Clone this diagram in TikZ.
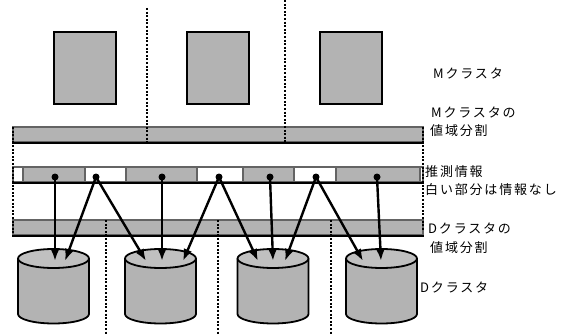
\documentclass[tikz,border=0pt]{standalone}
\usepackage{fontspec}
\newfontfamily\jp[LetterSpace=14]{Noto Sans CJK JP}
\usetikzlibrary{arrows.meta}
\definecolor{cg}{RGB}{179,179,179}
\definecolor{ctop}{RGB}{192,192,192}
\definecolor{edge}{RGB}{100,100,100}
\tikzset{
  mbox/.style={draw=black, line width=2pt, fill=cg},
  barfill/.style={fill=cg, draw=edge, line width=1.6pt},
  sep/.style={black, dash pattern=on 2pt off 1.6pt, line width=2.2pt},
  dotnode/.style={circle, fill=black, inner sep=0pt, minimum size=7pt},
  arr/.style={line width=2.4pt, -{Latex[length=12pt,width=9pt]}, shorten <=-3.5pt},
  lbl/.style={anchor=west, inner sep=0pt, font=\jp\fontsize{13}{15}\selectfont},
  cylline/.style={draw=black, line width=1.8pt}
}
\begin{document}
\begin{tikzpicture}[x=1pt,y=-1pt]
\useasboundingbox (0,0) rectangle (567,334);
% M cluster boxes
\node[mbox, minimum width=62pt, minimum height=72pt, inner sep=0pt] (m1) at (85,68) {};
\node[mbox, minimum width=62pt, minimum height=72pt, inner sep=0pt] (m2) at (217.5,68) {};
\node[mbox, minimum width=62pt, minimum height=72pt, inner sep=0pt] (m3) at (351,68) {};
% M range bar
\node[barfill, minimum width=410pt, minimum height=15pt, inner sep=0pt] (mbar) at (218,134.5) {};
\draw[black, line width=1.6pt] (mbar.south west) -- (mbar.south east);
% estimate bar
\node[draw=edge, line width=1.6pt, fill=white, minimum width=410pt, minimum height=15pt, inner sep=0pt] (ebar) at (218,174.5) {};
\foreach \a/\b in {23/85,126/197,243/294,336/420}{
  \filldraw[fill=cg, draw=edge, line width=1.6pt] (\a,167) rectangle (\b,182);
}
\draw[black, line width=1.6pt] (ebar.south west) -- (ebar.south east);
% D range bar
\node[barfill, minimum width=410pt, minimum height=15pt, inner sep=0pt] (dbar) at (218,227.5) {};
\draw[black, line width=1.6pt] (dbar.south west) -- (dbar.south east);
% dotted separators
\draw[sep] (147,8) -- (147,142);
\draw[sep] (285,0) -- (285,142);
\draw[sep] (13,127) -- (13,235);
\draw[sep] (423,127) -- (423,230);
\draw[sep] (106,220) -- (106,334);
\draw[sep] (218,220) -- (218,334);
\draw[sep] (331,220) -- (331,334);
% D cluster cylinders
\foreach \cx in {53.5,160.5,273,381.5}{
  \fill[cg] (\cx-35.5,258.5) rectangle (\cx+35.5,314);
  \filldraw[fill=cg, cylline] (\cx-35.5,258.5) -- (\cx-35.5,314) arc[start angle=180,end angle=0,x radius=35.5,y radius=9.5] -- (\cx+35.5,258.5);
  \filldraw[fill=ctop, cylline] (\cx,258.5) ellipse[x radius=35.5,y radius=9.5];
}
% dots
\node[dotnode] (p1) at (55,177) {};
\node[dotnode] (p2) at (96,177) {};
\node[dotnode] (p3) at (162,177) {};
\node[dotnode] (p4) at (219,177) {};
\node[dotnode] (p5) at (270,177) {};
\node[dotnode] (p6) at (316,177) {};
\node[dotnode] (p7) at (377,177) {};
% arrow targets
\coordinate (t1) at (55,261);
\coordinate (t2) at (65,261);
\coordinate (t3) at (146,261);
\coordinate (t4) at (162,261);
\coordinate (t5) at (183,261);
\coordinate (t6) at (258,261);
\coordinate (t7) at (273,261);
\coordinate (t8) at (285,261);
\coordinate (t9) at (363,261);
\coordinate (t10) at (381,261);
\draw[arr] (p1) -- (t1);
\draw[arr] (p2) -- (t2);
\draw[arr] (p2) -- (t3);
\draw[arr] (p3) -- (t4);
\draw[arr] (p4) -- (t5);
\draw[arr] (p4) -- (t6);
\draw[arr] (p5) -- (t7);
\draw[arr] (p6) -- (t8);
\draw[arr] (p6) -- (t9);
\draw[arr] (p7) -- (t10);
% labels
\node[lbl] (lm) at (433,73) {Mクラスタ};
\node[lbl] (lmr1) at (431,112) {Mクラスタの};
\node[lbl] (lmr2) at (430,131) {値域分割};
\node[lbl] (le1) at (425,172) {推測情報};
\node[lbl] (le2) at (425,190) {白い部分は情報なし};
\node[lbl] (ld1) at (428,228) {Dクラスタの};
\node[lbl] (ld2) at (430,248) {値域分割};
\node[lbl] (ld) at (420,287) {Dクラスタ};
\end{tikzpicture}
\end{document}
